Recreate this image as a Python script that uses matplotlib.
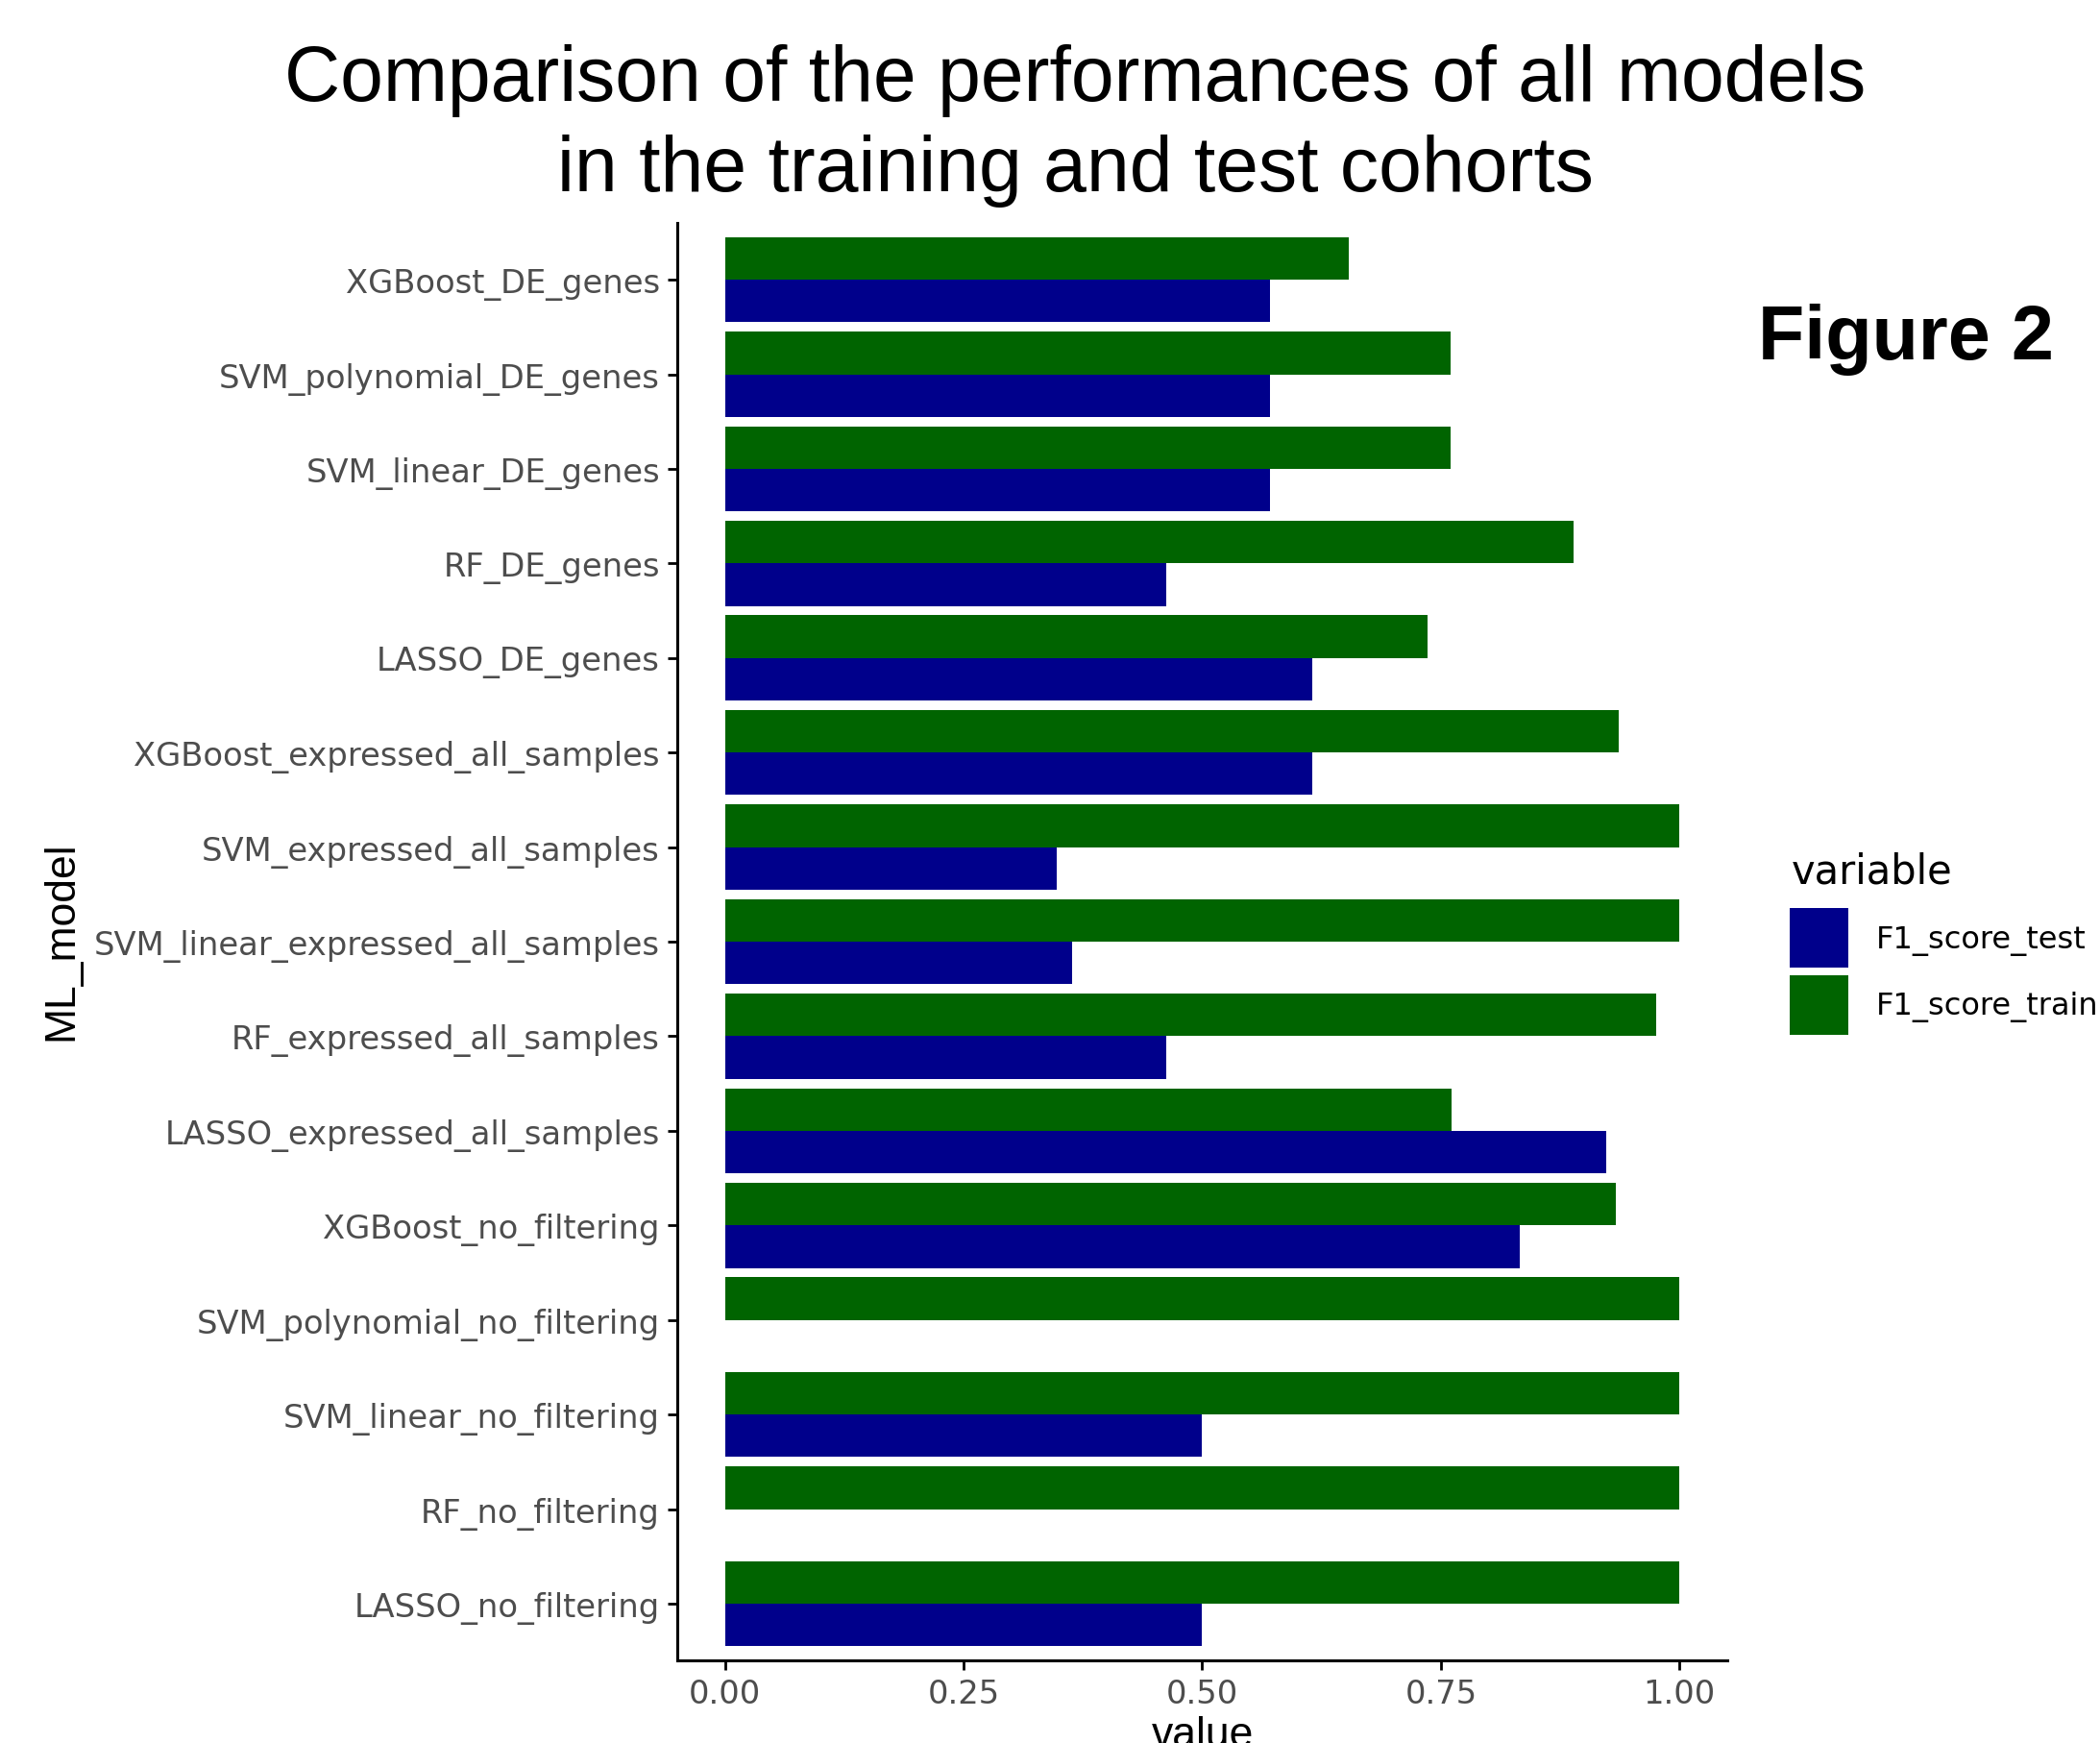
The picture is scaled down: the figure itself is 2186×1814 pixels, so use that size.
import matplotlib
matplotlib.use("Agg")
import matplotlib.pyplot as plt

# models, top to bottom as they appear
models = ["XGBoost_DE_genes", "SVM_polynomial_DE_genes", "SVM_linear_DE_genes",
          "RF_DE_genes", "LASSO_DE_genes", "XGBoost_expressed_all_samples",
          "SVM_expressed_all_samples", "SVM_linear_expressed_all_samples",
          "RF_expressed_all_samples", "LASSO_expressed_all_samples",
          "XGBoost_no_filtering", "SVM_polynomial_no_filtering",
          "SVM_linear_no_filtering", "RF_no_filtering", "LASSO_no_filtering"]
f1_train = [0.653, 0.760, 0.760, 0.889, 0.736, 0.936, 1.0, 1.0, 0.976, 0.761,
            0.933, 1.0, 1.0, 1.0, 1.0]
f1_test = [0.571, 0.571, 0.571, 0.462, 0.615, 0.615, 0.348, 0.364, 0.462, 0.923,
           0.833, 0.0, 0.5, 0.0, 0.5]

col_test = "#00008B"
col_train = "#006400"
tick_col = "#4D4D4D"

fig = plt.figure(figsize=(21.86, 18.15), dpi=100)
ax = fig.add_axes([0.3225, 0.0474, 0.500, 0.8242])

n = len(models)
ypos = [n - 1 - i for i in range(n)]
bw = 0.45
b_test = ax.barh([y - bw / 2 for y in ypos], f1_test, height=bw, color=col_test, label="F1_score_test")
b_train = ax.barh([y + bw / 2 for y in ypos], f1_train, height=bw, color=col_train, label="F1_score_train")

ax.set_xlim(-0.05, 1.05)
ax.set_ylim(-0.6, n - 1 + 0.6)
ax.set_yticks(ypos)
ax.set_yticklabels(models)
ax.set_xticks([0, 0.25, 0.5, 0.75, 1.0])
ax.set_xticklabels(["0.00", "0.25", "0.50", "0.75", "1.00"])
ax.tick_params(axis="both", labelsize=24.3, labelcolor=tick_col, length=7, width=2, pad=6)
for s in ["top", "right"]:
    ax.spines[s].set_visible(False)
for s in ["left", "bottom"]:
    ax.spines[s].set_linewidth(2.2)

fig.text(0.512, 1 - 105 / 1815, "Comparison of the performances of all models",
         family="Liberation Sans", fontsize=58, ha="center", va="baseline")
fig.text(0.512, 1 - 199 / 1815, "in the training and test cohorts",
         family="Liberation Sans", fontsize=58, ha="center", va="baseline")
fig.text(1830 / 2186, 1 - 374 / 1815, "Figure 2", family="Liberation Sans",
         fontweight="bold", fontsize=57, ha="left", va="baseline")

fig.text(0.029, 0.4606, "ML_model", family="Liberation Sans", fontsize=32,
         rotation=90, ha="center", va="center")
fig.text(1252 / 2186, 1 - 1786 / 1815, "value", family="Liberation Sans", fontsize=32,
         ha="center", va="top")

# legend: title as its own text, keys below it
fig.text(1865 / 2186, 1 - 920 / 1815, "variable", fontsize=30, ha="left", va="baseline")
leg = fig.legend(handles=[b_test, b_train], labels=["F1_score_test", "F1_score_train"],
                 loc="upper left", bbox_to_anchor=(1863 / 2186, 1 - 946 / 1815),
                 frameon=False, fontsize=23, handlelength=1.9,
                 handleheight=2.6, labelspacing=0.25, borderpad=0, borderaxespad=0,
                 handletextpad=0.9)

fig.savefig("out.png", dpi=100)
